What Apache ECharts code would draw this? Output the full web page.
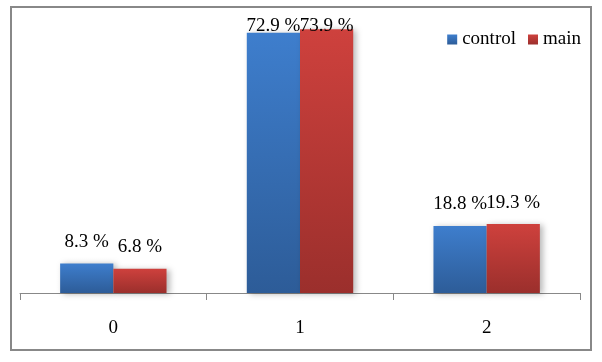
<!DOCTYPE html>
<html>
<head>
<meta charset="utf-8">
<script src="https://cdn.jsdelivr.net/npm/echarts@6/dist/echarts.min.js"></script>
<style>
html,body{margin:0;padding:0;background:#fff;}
#chart{width:602px;height:362px;}
</style>
</head>
<body>
<div id="chart"></div>
<script>
var categories = ['0', '1', '2'];
var controlVals = [8.3, 72.9, 18.8];
var mainVals = [6.8, 73.9, 19.3];
//cat 1 labels get squeezed under the top edge, so they sit on the bars
var controlLabelDist = [12, -3, 12];
var mainLabelDist = [12, -6, 12];

var serif = '"Liberation Serif", "DejaVu Serif", serif';

function grad(top, bottom){
	return new echarts.graphic.LinearGradient(0, 0, 0, 1, [
		{offset: 0, color: top},
		{offset: 1, color: bottom}
	]);
}

function buildData(vals, dist){
	var out = [];
	for(var i=0;i<vals.length;i++)
	{
		out.push({value: vals[i], label: {distance: dist[i]}});
	}
	return out;
}

function makeSeries(name, vals, dist, top, bottom){
	return {
		name: name,
		type: 'bar',
		barGap: '0%',
		barCategoryGap: '43%',
		data: buildData(vals, dist),
		itemStyle: {
			color: grad(top, bottom),
			shadowColor: 'rgba(0,0,0,0.28)',
			shadowBlur: 6,
			shadowOffsetX: 3,
			shadowOffsetY: 1
		},
		label: {
			show: true,
			position: 'top',
			color: '#000',
			fontFamily: serif,
			fontSize: 19,
			formatter: function(p){ return p.value + ' %'; }
		}
	};
}

var myChart = echarts.init(document.getElementById('chart'));
var option = {
	backgroundColor: '#fff',
	animation: false,
	grid: {left: 20, right: 22, top: 7.5, bottom: 69},
	legend: {
		right: 16,
		top: 25,
		icon: 'rect',
		itemWidth: 10,
		itemHeight: 10,
		itemGap: 12,
		textStyle: {fontFamily: serif, fontSize: 19, color: '#000'},
		data: ['control', 'main']
	},
	xAxis: {
		type: 'category',
		data: categories,
		axisLine: {lineStyle: {color: '#888', width: 1}},
		axisTick: {show: true, length: 7, lineStyle: {color: '#888'}},
		axisLabel: {fontFamily: serif, fontSize: 19, color: '#000', margin: 26}
	},
	yAxis: {
		type: 'value',
		min: 0,
		max: 80,
		show: false
	},
	graphic: [{
		type: 'rect',
		shape: {x: 11, y: 7, width: 580, height: 343},
		style: {fill: 'none', stroke: '#888', lineWidth: 2},
		silent: true
	}],
	series: [
		makeSeries('control', controlVals, controlLabelDist, '#3e7ecd', '#2d5c98'),
		makeSeries('main', mainVals, mainLabelDist, '#ce413d', '#9b2f2c')
	]
};
myChart.setOption(option);
</script>
</body>
</html>
